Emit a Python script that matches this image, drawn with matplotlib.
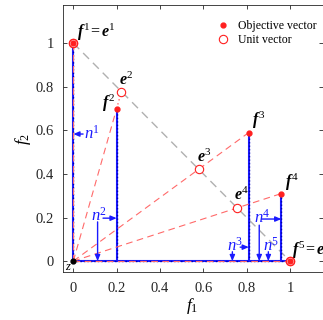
import matplotlib
matplotlib.use('Agg')
import matplotlib.pyplot as plt
from matplotlib.lines import Line2D

plt.rcParams['font.family'] = ['Liberation Serif', 'DejaVu Serif']
plt.rcParams['mathtext.fontset'] = 'custom'
plt.rcParams['mathtext.rm'] = 'Liberation Serif'
plt.rcParams['mathtext.it'] = 'Liberation Serif:italic'
plt.rcParams['mathtext.bf'] = 'Liberation Serif:bold'
plt.rcParams['mathtext.bfit'] = 'Liberation Serif:italic:bold'

# Objective vectors f^i
obj_f1 = [0.0, 0.2, 0.81, 0.96, 1.0]
obj_f2 = [1.0, 0.7, 0.59, 0.31, 0.0]
# Unit vectors e^i
unit_f1 = [0.0, 0.222, 0.579, 0.756, 1.0]
unit_f2 = [1.0, 0.778, 0.421, 0.244, 0.0]
# Points n^i on the axes
n_x = [0.0, 0.112, 0.734, 0.858, 0.90]
n_y = [0.583, 0.0, 0.0, 0.0, 0.0]

xticks = [0, 0.2, 0.4, 0.6, 0.8, 1]
yticks = [0, 0.2, 0.4, 0.6, 0.8, 1]
tick_labels = ['0', '0.2', '0.4', '0.6', '0.8', '1']

W, H = 323, 320
fig = plt.figure(figsize=(W / 100, H / 100), dpi=100)
ax = fig.add_axes([62.5 / W, 48 / H, 260 / W, 267 / H])
ax.set_xlim(-0.05, 1.15)
ax.set_ylim(-0.05, 1.175)

blue = '#1a1aff'
red = '#ff2020'
pink = '#ff6a6a'

# simplex line
ax.plot([0, 1], [1, 0], color='#b0b0b0', ls=(0, (6, 4)), lw=1.0, zorder=1)

# blue perpendicular lines
for x, y in zip(obj_f1, obj_f2):
    ax.plot([x, x], [0, y], color=blue, lw=1.5, zorder=2)
    ax.plot([x, x], [0, y], color='#0000b0', lw=1.0, ls=(0, (1, 1.5)), zorder=2)
ax.plot([0, 1], [0, 0], color=blue, lw=1.5, zorder=2)
ax.plot([0, 1], [0, 0], color='#0000b0', lw=1.0, ls=(0, (1, 1.5)), zorder=2)

# red dashed rays from origin
for i, (x, y) in enumerate(zip(obj_f1, obj_f2)):
    ex, ey = unit_f1[i], unit_f2[i]
    ax.plot([0, x], [0, y], color=pink, ls=(0, (6, 4)), lw=0.8, zorder=3)
    if ex ** 2 + ey ** 2 > x ** 2 + y ** 2 + 1e-9:
        ax.plot([x, ex], [y, ey], color=pink, ls=(0, (1, 2)), lw=1.0, zorder=3)

# markers
ax.plot(unit_f1, unit_f2, ls='none', marker='o', ms=6, mfc='white', mec=red, mew=0.8, zorder=5)
ax.plot([unit_f1[0], unit_f1[4]], [unit_f2[0], unit_f2[4]], ls='none', marker='o', ms=6,
        mfc='none', mec=red, mew=0.8, zorder=6)
ax.plot(obj_f1, obj_f2, ls='none', marker='o', ms=3.5, color=red, zorder=7)
ax.plot([0], [0], ls='none', marker='o', ms=3.5, color='black', zorder=8)

# labels of points
fs = 11.5
ax.text(0.015, 1.048, r'$\mathbfit{f}^{\,1}\!=\mathbfit{e}^{1}$', fontsize=fs, va='center', ha='left')
ax.text(0.195, 0.725, r'$\mathbfit{f}^{\,2}$', fontsize=fs, va='center', ha='right')
ax.text(0.245, 0.83, r'$\mathbfit{e}^{2}$', fontsize=fs, va='center', ha='center')
ax.text(0.825, 0.645, r'$\mathbfit{f}^{\,3}$', fontsize=fs, va='center', ha='left')
ax.text(0.605, 0.475, r'$\mathbfit{e}^{3}$', fontsize=fs, va='center', ha='center')
ax.text(0.775, 0.30, r'$\mathbfit{e}^{4}$', fontsize=fs, va='center', ha='center')
ax.text(0.975, 0.36, r'$\mathbfit{f}^{\,4}$', fontsize=fs, va='center', ha='left')
ax.text(1.01, 0.05, r'$\mathbfit{f}^{\,5}\!=\mathbfit{e}^{5}$', fontsize=fs, va='center', ha='left')
ax.text(-0.005, -0.025, r'$z$', fontsize=9, va='center', ha='right')

# n^i annotations
arw = dict(arrowstyle='-|>,head_length=0.35,head_width=0.15', color=blue, lw=1.0,
           shrinkA=0, shrinkB=0)
nfs = 12
ax.annotate('', xy=(0, n_y[0]), xytext=(0.045, n_y[0]), arrowprops=arw, zorder=9)
ax.text(0.048, n_y[0], r'$n^1$', color=blue, fontsize=nfs, va='center', ha='left')
lab_pos = [None, (0.118, 0.21), (0.745, 0.07), (0.87, 0.20), (0.915, 0.07)]
v_top = [None, 0.18, 0.043, 0.165, 0.043]
h_arrow = [None, (0.137, 0.197), (0.77, 0.064), (0.87, 0.193), None]
for i in range(1, 5):
    lx, ly = lab_pos[i]
    ax.text(lx, ly, r'$n^%d$' % (i + 1), color=blue, fontsize=nfs, va='center', ha='center')
    ax.annotate('', xy=(n_x[i], n_y[i]), xytext=(n_x[i], v_top[i]), arrowprops=arw, zorder=9)
    if h_arrow[i] is not None:
        hx, hy = h_arrow[i]
        ax.annotate('', xy=(obj_f1[i], hy), xytext=(hx, hy), arrowprops=arw, zorder=9)

# axes styling
ax.set_xticks(xticks)
ax.set_yticks(yticks)
ax.set_xticklabels(tick_labels)
ax.set_yticklabels(tick_labels)
ax.tick_params(direction='in', length=3, width=0.6, top=True, right=True,
               labelsize=10.5, colors='#262626')
ax.tick_params(axis='x', pad=7)
ax.tick_params(axis='y', pad=6)
for s in ax.spines.values():
    s.set_color('#262626')
    s.set_linewidth(0.6)
ax.set_xlabel(r'$f_1$', fontsize=12.5, labelpad=1)
ax.set_ylabel(r'$f_2$', fontsize=12.5, labelpad=2)

handles = [Line2D([], [], ls='none', marker='o', ms=3.5, color=red),
           Line2D([], [], ls='none', marker='o', ms=6, mfc='none', mec=red, mew=0.8)]
fig.legend(handles, ['Objective vector', 'Unit vector'], loc='upper left',
           bbox_to_anchor=(208 / W, 1 - 14 / H), frameon=False, fontsize=8.5,
           handlelength=1.5, handletextpad=0.5, labelspacing=0.2, borderpad=0)

fig.savefig('out.png', dpi=100)
